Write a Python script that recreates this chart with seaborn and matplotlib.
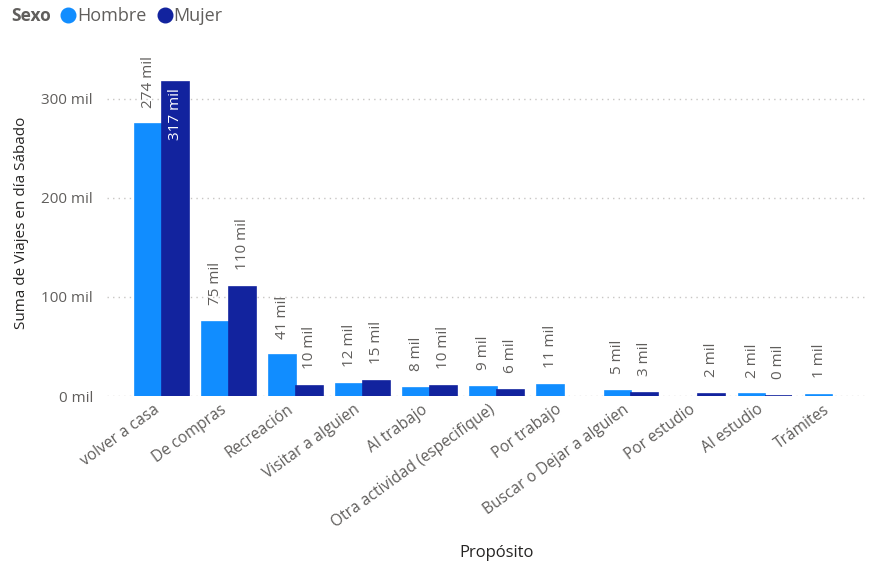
import numpy as np
import pandas as pd
import matplotlib
matplotlib.use("Agg")
import matplotlib.pyplot as plt
import matplotlib.transforms as mtransforms
import seaborn as sns
from matplotlib.lines import Line2D

categorias = ["volver a casa", "De compras", "Recreación", "Visitar a alguien", "Al trabajo",
              "Otra actividad (especifique)", "Por trabajo", "Buscar o Dejar a alguien",
              "Por estudio", "Al estudio", "Trámites"]
hombre = [274, 75, 41, 12, 8, 9, 11, 5, np.nan, 1.6, 1.2]
mujer = [317, 110, 10, 15, 10, 6, np.nan, 3, 2.0, 0.4, np.nan]
sexos = ["Hombre", "Mujer"]
colores = {"Hombre": "#118DFF", "Mujer": "#12239E"}
yticks = [0, 100, 200, 300]

rows = []
for c, h, m in zip(categorias, hombre, mujer):
    rows.append({"Propósito": c, "Sexo": "Hombre", "Viajes": h})
    rows.append({"Propósito": c, "Sexo": "Mujer", "Viajes": m})
df = pd.DataFrame(rows).dropna()

sns.set_theme(style="white")
plt.rcParams["font.family"] = ["Open Sans", "DejaVu Sans"]

fig = plt.figure(figsize=(8.71, 5.69), dpi=100)
ax = fig.add_axes([107/871, 173/569, (866-107)/871, (396-49)/569])

sns.barplot(data=df, x="Propósito", y="Viajes", hue="Sexo", order=categorias,
            hue_order=sexos, palette=colores, ax=ax, width=0.8, legend=False,
            saturation=1, errorbar=None, linewidth=0)

# minimal visible height for tiny bars (as rendered in the original)
for cont in ax.containers:
    for p in cont.patches:
        p.set_edgecolor(p.get_facecolor())
        p.set_linewidth(1.2)

ax.set_ylim(0, 350)
ax.set_xlim(-0.82, 10.5)
ax.set_yticks(yticks)
ax.set_yticklabels([f"{v} mil" for v in yticks], color="#605E5C", fontsize=11)
ax.yaxis.grid(True, linestyle=(0, (1, 3)), color="#C8C6C4", linewidth=1)
ax.set_axisbelow(True)
for s in ax.spines.values():
    s.set_visible(False)
ax.tick_params(axis="y", length=0, pad=10)
ax.set_xticks(range(len(categorias)))
ax.set_xticklabels(categorias, rotation=36, ha="right", rotation_mode="anchor",
                   color="#605E5C", fontsize=11.2)
ax.tick_params(axis="x", length=0, pad=4)
shift = mtransforms.ScaledTranslation(-9/100, 0, fig.dpi_scale_trans)
for lab in ax.get_xticklabels():
    lab.set_transform(lab.get_transform() + shift)

ax.set_xlabel("Propósito", fontsize=12, color="#252423")
ax.xaxis.set_label_coords((497 - 107) / 759, (396 - 553) / 347)
ax.xaxis.label.set_va("center")
ax.set_ylabel("Suma de Viajes en día Sábado", fontsize=11, color="#252423", labelpad=9)

for cont in ax.containers:
    for p in cont.patches:
        h = p.get_height()
        if h is None or np.isnan(h):
            continue
        x = p.get_x() + p.get_width() / 2
        txt = f"{h:.0f} mil"
        if h > 300:
            ax.annotate(txt, (x, h), xytext=(0, -4.5), textcoords="offset points",
                        rotation=90, ha="center", va="top", color="white", fontsize=11)
        else:
            ax.annotate(txt, (x, h), xytext=(0, 12), textcoords="offset points",
                        rotation=90, ha="center", va="bottom", color="#605E5C", fontsize=11)

# legend
fig.text(11/871, 1 - 16/569, "Sexo", fontsize=12.5, fontweight="bold", color="#605E5C", va="center")
handles = [Line2D([0], [0], marker="o", linestyle="", markersize=10.5,
                  markerfacecolor=colores[s], markeredgecolor=colores[s]) for s in sexos]
fig.legend(handles, sexos, loc="center left", bbox_to_anchor=(61/871, 1 - 16/569),
           ncol=2, frameon=False, handletextpad=0.1, columnspacing=0.6,
           fontsize=13, labelcolor="#605E5C", borderaxespad=0, borderpad=0, handlelength=0.8)

fig.savefig("out.png", dpi=100)
